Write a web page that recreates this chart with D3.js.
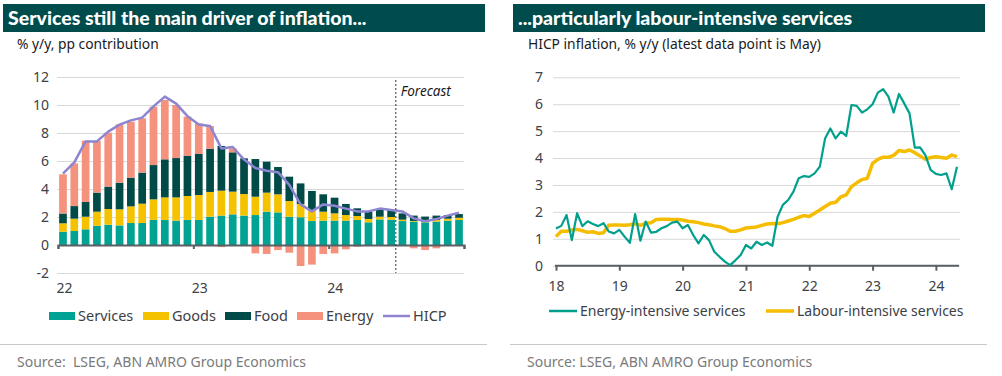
<!DOCTYPE html>
<html>
<head>
<meta charset="utf-8">
<script src="https://cdn.jsdelivr.net/npm/d3@7"></script>
<style>
  body { margin: 0; background: #fff; font-family: "Noto Sans", "Open Sans", sans-serif; }
  svg text { font-family: "Noto Sans", "Open Sans", sans-serif; }
  svg text.ttl { font-family: Lato, "Noto Sans", sans-serif; }
</style>
</head>
<body>
<svg id="chart" width="1002" height="376"></svg>
<script>
// ---- left panel data: contributions to HICP, Jan 22 .. Dec 24 (forecast from Jul 24)
const months = d3.range(36);
const services = [0.95,1.0,1.12,1.38,1.45,1.4,1.57,1.57,1.79,1.79,1.74,1.79,1.79,2.02,2.1,2.19,2.1,2.14,2.38,
  2.33,2.02,1.98,1.71,1.74,1.74,1.74,1.79,1.62,1.83,1.81,1.71,1.67,1.62,1.67,1.74,1.79];
const goods = [0.6,0.88,0.9,1.0,1.12,1.15,1.19,1.38,1.47,1.61,1.66,1.71,1.78,1.77,1.78,1.62,1.54,1.31,1.36,
  1.29,1.12,0.95,0.79,0.64,0.52,0.4,0.28,0.24,0.19,0.19,0.1,0.05,0.05,0.12,0.14,0.16];
const food = [0.7,0.9,1.05,1.36,1.6,1.9,2.05,2.22,2.45,2.72,2.81,2.86,2.93,3.09,3.19,2.81,2.55,2.69,2.21,
  1.95,1.74,1.47,1.36,1.24,1.12,0.79,0.55,0.52,0.52,0.5,0.45,0.38,0.36,0.31,0.26,0.26];
const energy = [2.8,3.05,4.38,3.7,3.85,4.17,4.0,3.88,4.17,4.24,3.79,2.81,2.19,1.62,-0.15,0.28,-0.05,-0.6,-0.64,
  -0.36,-0.55,-1.5,-1.4,-0.64,-0.6,-0.31,-0.12,0,0,0,0,-0.24,-0.36,-0.24,0,0];
const hicp = [5.1,5.9,7.4,7.4,8.1,8.6,8.9,9.1,9.9,10.6,10.1,9.2,8.6,8.5,6.9,7.0,6.1,5.5,5.3,
  5.2,4.3,2.9,2.4,2.9,2.8,2.6,2.4,2.4,2.6,2.5,2.4,1.9,1.7,1.85,2.1,2.3];
const yearLabelsL = ['22', '23', '24'];
const yTicksL = [-2, 0, 2, 4, 6, 8, 10, 12];
const forecastStart = 30;

// ---- right panel data: monthly, Jan 18 .. May 24
const energyIntensive = [1.38,1.48,1.88,0.95,1.95,1.47,1.65,1.55,1.47,1.58,1.27,1.2,
  1.33,1.08,0.85,1.92,0.93,1.64,1.23,1.26,1.39,1.47,1.6,1.64,
  1.39,1.51,1.14,0.83,1.14,0.95,0.52,0.33,0.15,0.02,0.2,0.4,
  0.77,0.64,0.89,0.77,0.86,0.74,1.82,2.26,2.44,2.75,3.25,3.33,
  3.3,3.43,3.68,4.73,5.1,4.73,4.98,4.82,5.97,5.94,5.69,5.81,
  6.0,6.43,6.56,6.28,5.69,6.38,6.03,5.66,4.39,4.4,4.11,3.56,
  3.41,3.37,3.43,2.84,3.68];
const labourIntensive = [1.08,1.28,1.28,1.33,1.35,1.3,1.24,1.26,1.2,1.22,1.5,1.51,
  1.51,1.5,1.52,1.56,1.5,1.58,1.6,1.72,1.73,1.73,1.72,1.72,
  1.7,1.65,1.63,1.6,1.55,1.52,1.48,1.45,1.38,1.28,1.28,1.33,
  1.4,1.42,1.44,1.5,1.55,1.57,1.56,1.6,1.66,1.72,1.8,1.86,
  1.83,1.95,2.07,2.2,2.32,2.36,2.56,2.63,2.94,3.08,3.2,3.25,
  3.8,3.95,4.03,4.03,4.1,4.28,4.24,4.3,4.2,4.08,3.95,4.02,
  4.05,4.02,3.99,4.11,4.05];
const yearLabelsR = ['18', '19', '20', '21', '22', '23', '24'];
const yTicksR = [0, 1, 2, 3, 4, 5, 6, 7];

const C = {
  head: '#004c4c', services: '#00a393', goods: '#f5c200', food: '#004a47',
  energy: '#f4927d', hicp: '#8d85cf', grid: '#d9d9d9', axis: '#5a5f63',
  text: '#3c4146', source: '#7a7a7a', green: '#00a08c', yellow: '#f5bd00'
};

const svg = d3.select('#chart');

function panelFrame(x0, x1, title, subtitle, textX) {
  svg.append('rect').attr('x', x0).attr('y', 4).attr('width', x1 - x0).attr('height', 28).attr('fill', C.head);
  svg.append('text').attr('class', 'ttl').attr('x', x0 + 5).attr('y', 25).attr('fill', '#fff')
    .style('font-size', '19.5px').style('font-weight', 900).text(title);
  svg.append('text').attr('x', textX).attr('y', 49).attr('fill', '#1a1a1a')
    .style('font-size', '13.8px').text(subtitle);
  svg.append('line').attr('x1', x0 - 3).attr('x2', x1 + 2).attr('y1', 344.5).attr('y2', 344.5)
    .attr('stroke', '#c8c8c8');
}

panelFrame(3, 485, 'Services still the main driver of inflation...', '% y/y, pp contribution', 17);
panelFrame(513, 985, '...particularly labour-intensive services', 'HICP inflation, % y/y (latest data point is May)', 528);
svg.append('text').attr('x', 17).attr('y', 367).attr('fill', C.source).style('font-size', '14px')
  .attr('xml:space', 'preserve').text('Source:  LSEG, ABN AMRO Group Economics');
svg.append('text').attr('x', 527).attr('y', 367).attr('fill', C.source).style('font-size', '14px')
  .text('Source: LSEG, ABN AMRO Group Economics');

// ================= left chart =================
(function () {
  const X0 = 58, X1 = 464;
  const y = d3.scaleLinear().domain([-2, 12]).range([273, 77]);
  const xm = d3.scaleLinear().domain([0, 36]).range([X0, X1]);
  const xb = d3.scaleBand().domain(months).range([X0, X1]).paddingInner(0.32).paddingOuter(0.1);

  const g = svg.append('g');
  g.append('g').attr('transform', `translate(${X0 - 1},0)`)
    .call(d3.axisLeft(y).tickValues(yTicksL).tickSize(-(X1 - X0 + 1)).tickPadding(8).tickFormat(d => String(d)))
    .call(a => a.select('.domain').remove())
    .call(a => a.selectAll('.tick line').attr('stroke', C.grid))
    .call(a => a.selectAll('.tick text').attr('fill', C.text).style('font-size', '14px'));

  const rows = months.map(i => ({ i, services: services[i], goods: goods[i], food: food[i], energy: energy[i] }));
  const keys = ['services', 'goods', 'food', 'energy'];
  const series = d3.stack().keys(keys).offset(d3.stackOffsetDiverging)(rows);

  g.selectAll('.layer').data(series).join('g').attr('fill', d => C[d.key])
    .selectAll('rect').data(d => d).join('rect')
    .attr('x', d => xb(d.data.i)).attr('width', xb.bandwidth())
    .attr('y', d => y(Math.max(d[0], d[1])))
    .attr('height', d => Math.abs(y(d[0]) - y(d[1])));

  // x axis at zero
  g.append('g').attr('transform', `translate(0,${y(0)})`)
    .call(d3.axisBottom(xm).tickValues([0, 12, 24, 36]).tickSize(4).tickPadding(34)
      .tickFormat((d, i) => yearLabelsL[i] || ''))
    .call(a => a.select('.domain').attr('stroke', C.axis).attr('stroke-width', 2))
    .call(a => a.selectAll('.tick line').attr('stroke', C.axis).attr('stroke-width', 2))
    .call(a => a.selectAll('.tick text').attr('fill', C.text).style('font-size', '14px')
      .attr('dx', 6));

  const line = d3.line().x((d, i) => xb(i) + xb.bandwidth() / 2).y(d => y(d));
  g.append('path').datum(hicp).attr('d', line).attr('fill', 'none')
    .attr('stroke', C.hicp).attr('stroke-width', 2.5).attr('stroke-linejoin', 'round');

  const fx = xm(forecastStart) - 0.5;
  g.append('line').attr('x1', fx).attr('x2', fx).attr('y1', 80).attr('y2', y(-2))
    .attr('stroke', '#333').attr('stroke-dasharray', '2,2');
  g.append('text').attr('x', fx + 5).attr('y', 96).attr('fill', '#1a1a1a')
    .style('font-size', '13.5px').style('font-style', 'italic').text('Forecast');

  // legend
  const leg = [
    { k: 'Services', c: C.services, x: 49 }, { k: 'Goods', c: C.goods, x: 143 },
    { k: 'Food', c: C.food, x: 225 }, { k: 'Energy', c: C.energy, x: 297 }
  ];
  leg.forEach(d => {
    g.append('rect').attr('x', d.x).attr('y', 312).attr('width', 26).attr('height', 8).attr('fill', d.c);
    g.append('text').attr('x', d.x + 29).attr('y', 321).attr('fill', C.text).style('font-size', '14.5px').text(d.k);
  });
  g.append('line').attr('x1', 383).attr('x2', 410).attr('y1', 316).attr('y2', 316)
    .attr('stroke', C.hicp).attr('stroke-width', 2.5);
  g.append('text').attr('x', 413).attr('y', 321).attr('fill', C.text).style('font-size', '14.5px').text('HICP');
})();

// ================= right chart =================
(function () {
  const X0 = 556, X1 = 957;
  const x = d3.scaleLinear().domain([0, 76]).range([X0, X1]);
  const y = d3.scaleLinear().domain([0, 7]).range([265.7, 77.3]);
  const g = svg.append('g');

  g.append('g').attr('transform', `translate(${X0 - 3},0)`)
    .call(d3.axisLeft(y).tickValues(yTicksR).tickSize(-(X1 - X0 + 6)).tickPadding(10).tickFormat(d3.format('d')))
    .call(a => a.select('.domain').remove())
    .call(a => a.selectAll('.tick line').attr('stroke', C.grid))
    .call(a => a.selectAll('.tick text').attr('fill', C.text).style('font-size', '14px'));

  g.append('g').attr('transform', `translate(0,${y(0)})`)
    .call(d3.axisBottom(x).tickValues(d3.range(0, 73, 12)).tickSize(5).tickPadding(10)
      .tickFormat((d, i) => yearLabelsR[i]))
    .call(a => a.select('.domain').attr('stroke', C.axis).attr('stroke-width', 2)
      .attr('d', `M${X0 - 1},0H${X1 + 2}`))
    .call(a => a.selectAll('.tick line').attr('stroke', C.axis).attr('stroke-width', 2))
    .call(a => a.selectAll('.tick text').attr('fill', C.text).style('font-size', '14px'));

  const line = d3.line().x((d, i) => x(i)).y(d => y(d));
  g.append('path').datum(labourIntensive).attr('d', line).attr('fill', 'none')
    .attr('stroke', C.yellow).attr('stroke-width', 3.5).attr('stroke-linejoin', 'round');
  g.append('path').datum(energyIntensive).attr('d', line).attr('fill', 'none')
    .attr('stroke', C.green).attr('stroke-width', 2.2).attr('stroke-linejoin', 'round');

  const leg = [
    { k: 'Energy-intensive services', c: C.green, x: 549, w: 2.5 },
    { k: 'Labour-intensive services', c: C.yellow, x: 766, w: 3.5 }
  ];
  leg.forEach(d => {
    g.append('line').attr('x1', d.x).attr('x2', d.x + 28).attr('y1', 311).attr('y2', 311)
      .attr('stroke', d.c).attr('stroke-width', d.w);
    g.append('text').attr('x', d.x + 31).attr('y', 316).attr('fill', C.text).style('font-size', '14px').text(d.k);
  });
})();
</script>
</body>
</html>
